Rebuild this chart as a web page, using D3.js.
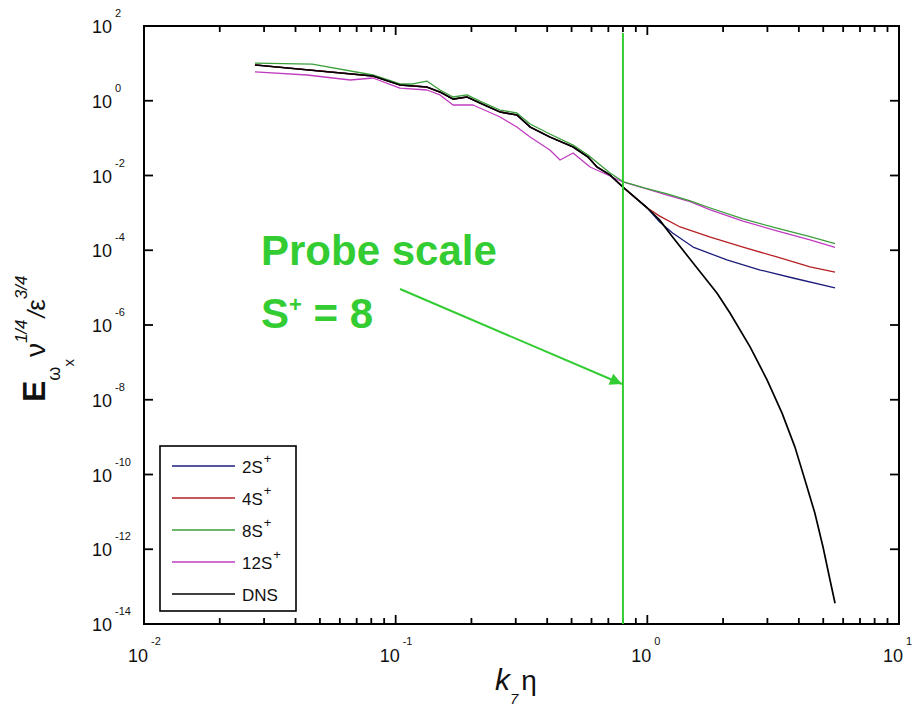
<!DOCTYPE html>
<html>
<head>
<meta charset="utf-8">
<script src="https://cdn.jsdelivr.net/npm/d3@7"></script>
<style>
  body { margin: 0; background: #fff; }
  svg { display: block; font-family: "Liberation Sans", Arial, sans-serif; }
</style>
</head>
<body>
<svg id="chart" width="912" height="707"></svg>
<script>
// k_7 eta , E values
const dns = [[0.0276,9.06],[0.0813,4.59],[0.104,2.64],[0.133,2.33],[0.150,1.71],[0.169,1.11],[0.192,1.26],
  [0.216,0.87],[0.260,0.50],[0.303,0.416],[0.342,0.199],[0.410,0.107],[0.507,0.058],[0.581,0.0313],
  [0.631,0.0169],[0.711,0.0103],[0.800,0.0049],[1.0,0.00135],[1.12,6.4e-4],[1.26,2.26e-4],[1.52,4.56e-5],
  [1.89,7.2e-6],[2.13,2.1e-6],[2.56,2.6e-7],[2.99,3.4e-8],[3.43,4.4e-9],[3.86,5.4e-10],[4.23,7.1e-11],
  [4.63,9.3e-12],[4.99,1.15e-12],[5.32,1.5e-13],[5.57,3.6e-14]];
const s2 = [[0.0276,9.06],[0.0813,4.59],[0.104,2.64],[0.133,2.33],[0.150,1.71],[0.169,1.11],[0.192,1.26],
  [0.216,0.87],[0.260,0.50],[0.303,0.416],[0.342,0.199],[0.410,0.107],[0.507,0.058],[0.581,0.0313],
  [0.631,0.0169],[0.711,0.0103],[0.800,0.0049],[1.0,0.00135],[1.12,5.7e-4],[1.26,2.9e-4],[1.52,1.22e-4],
  [2.07,5.5e-5],[2.81,2.96e-5],[3.79,1.81e-5],[5.57,9.8e-6]];
const s4 = [[0.0276,9.06],[0.0813,4.59],[0.104,2.64],[0.133,2.33],[0.150,1.71],[0.169,1.11],[0.192,1.26],
  [0.216,0.87],[0.260,0.50],[0.303,0.416],[0.342,0.199],[0.410,0.107],[0.507,0.058],[0.581,0.0313],
  [0.631,0.0169],[0.711,0.0103],[0.800,0.0049],[1.0,0.00135],[1.12,8.2e-4],[1.35,4.2e-4],[1.78,2.26e-4],
  [2.40,1.22e-4],[3.27,6.6e-5],[4.43,3.6e-5],[5.57,2.6e-5]];
const s8 = [[0.0276,10.2],[0.0466,9.6],[0.0813,4.89],[0.104,2.81],[0.117,2.81],[0.133,3.37],[0.150,1.94],
  [0.169,1.26],[0.192,1.43],[0.216,0.98],[0.260,0.565],[0.303,0.47],[0.342,0.239],[0.410,0.129],
  [0.507,0.065],[0.581,0.0353],[0.711,0.0117],[0.800,0.0069],[0.98,0.0046],[1.20,0.0032],[1.48,0.0021],
  [1.78,0.00135],[2.40,6.9e-4],[3.27,3.9e-4],[4.43,2.3e-4],[5.57,1.5e-4]];
const s12 = [[0.0276,5.9],[0.0445,4.89],[0.066,3.59],[0.0813,4.06],[0.104,2.19],[0.133,1.94],[0.150,1.43],
  [0.169,0.77],[0.203,0.77],[0.260,0.367],[0.303,0.199],[0.342,0.107],[0.410,0.048],[0.450,0.026],
  [0.507,0.040],[0.592,0.0169],[0.711,0.0097],[0.800,0.0067],[0.98,0.0045],[1.20,0.0030],[1.48,0.0020],
  [1.78,0.00120],[2.40,6.0e-4],[3.27,3.3e-4],[4.43,1.9e-4],[5.57,1.2e-4]];

const seriesNames = ['2S', '4S', '8S', '12S', 'DNS'];
const seriesColors = ['#1c1c7c', '#b52025', '#3a9f3a', '#c03cc0', '#000000'];
const seriesData = [s2, s4, s8, s12, dns];
const drawOrder = [0, 1, 3, 2, 4];

const xDecades = [-2, -1, 0, 1];
const yPowers = [2, 0, -2, -4, -6, -8, -10, -12, -14];
const probeK = 0.80;

const svg = d3.select('#chart');
const x = d3.scaleLog().domain([0.01, 10]).range([144, 899]);
const y = d3.scaleLog().domain([1e-14, 1e2]).range([624, 26]);

const majorX = xDecades.map(p => Math.pow(10, p));
const minorX = [];
xDecades.slice(0, 3).forEach(p => { for (let m = 2; m < 10; m++) minorX.push(m * Math.pow(10, p)); });
const majorY = yPowers.map(p => Math.pow(10, p));

// curves
const line = d3.line().x(d => x(d[0])).y(d => y(d[1]));
drawOrder.forEach(i => {
  svg.append('path').attr('d', line(seriesData[i]))
    .attr('fill', 'none').attr('stroke', seriesColors[i])
    .attr('stroke-width', i === 4 ? 1.7 : 1.3).attr('stroke-linejoin', 'round');
});

// frame
svg.append('rect').attr('x', 144).attr('y', 26).attr('width', 755).attr('height', 598)
  .attr('fill', 'none').attr('stroke', '#000').attr('stroke-width', 2);

// inward ticks on all four sides
function tickLines(vals, x1, x2, y1, y2) {
  svg.append('g').selectAll('line').data(vals).enter().append('line')
    .attr('x1', x1).attr('x2', x2).attr('y1', y1).attr('y2', y2)
    .style('stroke', '#000').style('stroke-width', '1.8px');
}
tickLines(majorX, d => x(d), d => x(d), 624, 615);
tickLines(minorX, d => x(d), d => x(d), 624, 618);
tickLines(majorX, d => x(d), d => x(d), 26, 35);
tickLines(minorX, d => x(d), d => x(d), 26, 32);
tickLines(majorY, 144, 153, d => y(d), d => y(d));
tickLines(majorY, 899, 890, d => y(d), d => y(d));

// tick labels
yPowers.forEach(p => {
  const ty = y(Math.pow(10, p));
  svg.append('text').attr('x', 112).attr('y', ty + 7).attr('text-anchor', 'end')
    .attr('font-size', 18).attr('fill', '#111').text('10');
  svg.append('text').attr('x', 115).attr('y', ty - 9)
    .attr('font-size', 11).attr('fill', '#111').text(p < 0 ? '-' + Math.abs(p) : p);
});
xDecades.forEach(p => {
  const tx = x(Math.pow(10, p));
  svg.append('text').attr('x', tx + 4).attr('y', 662).attr('text-anchor', 'end')
    .attr('font-size', 18).attr('fill', '#111').text('10');
  svg.append('text').attr('x', tx + 7).attr('y', 645)
    .attr('font-size', 11).attr('fill', '#111').text(p < 0 ? '-' + Math.abs(p) : p);
});

// axis titles
const xt = svg.append('text').attr('x', 495).attr('y', 690).attr('fill', '#111');
xt.append('tspan').attr('font-size', 30).attr('font-style', 'italic').text('k');
xt.append('tspan').attr('font-size', 15).attr('font-style', 'italic').attr('dy', 14).text('7');
xt.append('tspan').attr('font-size', 28).attr('dy', -14).attr('dx', 3).text('η');

const yt = svg.append('text').attr('transform', 'translate(45,402) rotate(-90)').attr('fill', '#111');
yt.append('tspan').attr('font-size', 32).attr('font-weight', 'bold').text('E');
yt.append('tspan').attr('font-size', 18).attr('dy', 15).text('ω');
yt.append('tspan').attr('font-size', 15).attr('dy', 14).text('x');
yt.append('tspan').attr('font-size', 28).attr('dy', -29).attr('dx', 2).text('ν');
yt.append('tspan').attr('font-size', 17).attr('font-style', 'italic').attr('dy', -18).text('1/4');
yt.append('tspan').attr('font-size', 24).attr('font-style', 'italic').attr('dy', 18).attr('dx', 2).text('/');
yt.append('tspan').attr('font-size', 26).text('ε');
yt.append('tspan').attr('font-size', 17).attr('font-style', 'italic').attr('dy', -18).text('3/4');

// legend
const lg = svg.append('g');
lg.append('rect').attr('x', 160).attr('y', 446).attr('width', 136).attr('height', 165)
  .attr('fill', '#fff').attr('stroke', '#000').attr('stroke-width', 1.6);
seriesNames.forEach((name, i) => {
  const ly = 466 + i * 32;
  lg.append('line').attr('x1', 172).attr('x2', 235).attr('y1', ly).attr('y2', ly)
    .attr('stroke', seriesColors[i]).attr('stroke-width', 1.4);
  const t = lg.append('text').attr('x', 242).attr('y', ly + 7).attr('font-size', 17).attr('fill', '#111').text(name);
  if (name !== 'DNS') t.append('tspan').attr('font-size', 13).attr('dy', -10).attr('dx', 1).text('+');
});

// probe scale annotation
const probeGreen = '#33cc33';
svg.append('line').attr('x1', x(probeK)).attr('x2', x(probeK)).attr('y1', 33).attr('y2', 624)
  .attr('stroke', probeGreen).attr('stroke-width', 2);
svg.append('defs').append('marker').attr('id', 'arrow').attr('viewBox', '0 0 10 10')
  .attr('refX', 10).attr('refY', 5).attr('markerWidth', 7).attr('markerHeight', 6)
  .attr('markerUnits', 'strokeWidth').attr('orient', 'auto')
  .append('path').attr('d', 'M0,0L10,5L0,10Z').attr('fill', probeGreen);
svg.append('line').attr('x1', 400).attr('y1', 289).attr('x2', x(probeK) - 1).attr('y2', 384)
  .attr('stroke', probeGreen).attr('stroke-width', 2).attr('marker-end', 'url(#arrow)');
svg.append('text').attr('x', 261).attr('y', 265).attr('font-size', 42).attr('font-weight', 'bold')
  .attr('fill', probeGreen).text('Probe scale');
const st = svg.append('text').attr('x', 261).attr('y', 328).attr('font-size', 42).attr('font-weight', 'bold')
  .attr('fill', probeGreen).text('S');
st.append('tspan').attr('font-size', 22).attr('dy', -16).text('+');
st.append('tspan').attr('dy', 16).text(' = 8');
</script>
</body>
</html>
